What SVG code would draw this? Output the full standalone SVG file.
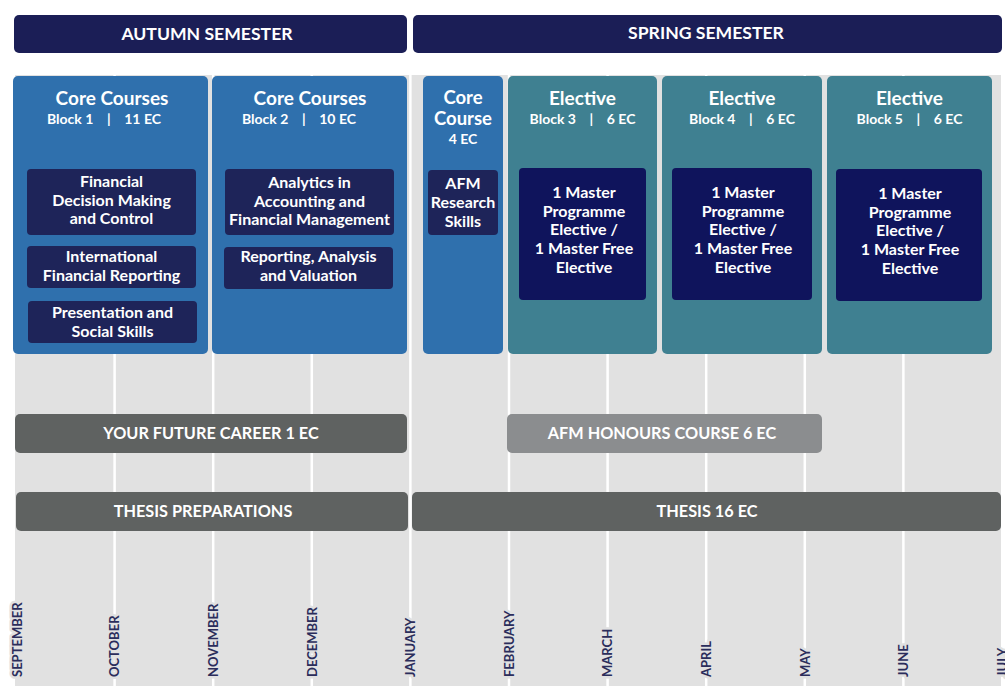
<svg xmlns="http://www.w3.org/2000/svg" width="1005" height="686" viewBox="0 0 1005 686">
<style>
text{font-family:Lato,"Open Sans","Liberation Sans",sans-serif;font-weight:bold;text-anchor:middle;fill:#fff;white-space:pre}
.sem{fill:#1b1e56}
.blue{fill:#2f70ad}
.teal{fill:#3f8091}
.inner{fill:#1e2459}
.einner{fill:#0f145c}
.bar{fill:#5f6261}
.bar2{fill:#8b8d8f}
.h1{font-size:19px}
.h1s{font-size:18.5px}
.h2{font-size:14px}
.t{font-size:16px}
.semt{font-size:17.6px}
.bt{font-size:16.3px}
.mon{font-size:13px;fill:#2b2d5b;text-anchor:start;stroke:#e1e1e1;stroke-width:5;paint-order:stroke;stroke-linejoin:round}
.gl{stroke:#fff;stroke-width:2.5}
</style>
<rect x="0" y="0" width="1005" height="686" fill="#fff"/>
<rect x="15" y="75" width="986" height="611" fill="#e1e1e1"/>
<g id="gridlines">
<line class="gl" x1="114.6" y1="75" x2="114.6" y2="686"/>
<line class="gl" x1="213.2" y1="75" x2="213.2" y2="686"/>
<line class="gl" x1="311.8" y1="75" x2="311.8" y2="686"/>
<line class="gl" x1="410.4" y1="75" x2="410.4" y2="686"/>
<line class="gl" x1="509" y1="75" x2="509" y2="686"/>
<line class="gl" x1="607.6" y1="75" x2="607.6" y2="686"/>
<line class="gl" x1="706.2" y1="75" x2="706.2" y2="686"/>
<line class="gl" x1="804.8" y1="75" x2="804.8" y2="686"/>
<line class="gl" x1="903.4" y1="75" x2="903.4" y2="686"/>
</g>
<g id="months">
<text class="mon" transform="translate(21.5,677) rotate(-90)">SEPTEMBER</text>
<text class="mon" transform="translate(119.3,677) rotate(-90)">OCTOBER</text>
<text class="mon" transform="translate(217.9,677) rotate(-90)">NOVEMBER</text>
<text class="mon" transform="translate(316.5,677) rotate(-90)">DECEMBER</text>
<text class="mon" transform="translate(415.1,677) rotate(-90)">JANUARY</text>
<text class="mon" transform="translate(513.7,677) rotate(-90)">FEBRUARY</text>
<text class="mon" transform="translate(612.3,677) rotate(-90)">MARCH</text>
<text class="mon" transform="translate(710.9,677) rotate(-90)">APRIL</text>
<text class="mon" transform="translate(809.5,677) rotate(-90)">MAY</text>
<text class="mon" transform="translate(908.1,677) rotate(-90)">JUNE</text>
<text class="mon" transform="translate(1006.7,677) rotate(-90)">JULY</text>
</g>
<g id="autumn">
<rect class="sem" x="14" y="15" width="393" height="38" rx="5"/>
<text class="semt" x="207" y="40">AUTUMN SEMESTER</text>
</g>
<g id="spring">
<rect class="sem" x="413" y="15" width="589" height="38" rx="5"/>
<text class="semt" x="706" y="39">SPRING SEMESTER</text>
</g>
<g id="block1">
<rect class="blue" x="13" y="76" width="195" height="278" rx="5"/>
<text class="h1" x="112" y="105">Core Courses</text>
<text class="h2" x="104" y="124">Block 1    |    11 EC</text>
</g>
<g id="block2">
<rect class="blue" x="212" y="76" width="195" height="278" rx="5"/>
<text class="h1" x="310" y="105">Core Courses</text>
<text class="h2" x="299" y="124">Block 2    |    10 EC</text>
</g>
<g id="corecourse">
<rect class="blue" x="423" y="76" width="80" height="278" rx="5"/>
<text class="h1s" x="463" y="104">Core</text>
<text class="h1s" x="463" y="125">Course</text>
<text class="h2" x="463" y="144">4 EC</text>
</g>
<g id="block3">
<rect class="teal" x="508" y="76" width="149" height="278" rx="5"/>
<text class="h1" x="582.5" y="105">Elective</text>
<text class="h2" x="582.5" y="124">Block 3    |    6 EC</text>
</g>
<g id="block4">
<rect class="teal" x="662" y="76" width="160" height="278" rx="5"/>
<text class="h1" x="742" y="105">Elective</text>
<text class="h2" x="742" y="124">Block 4    |    6 EC</text>
</g>
<g id="block5">
<rect class="teal" x="827" y="76" width="165" height="278" rx="5"/>
<text class="h1" x="909.5" y="105">Elective</text>
<text class="h2" x="909.5" y="124">Block 5    |    6 EC</text>
</g>
<g id="fdmc">
<rect class="inner" x="27" y="169" width="169" height="66" rx="4"/>
<text class="t" x="111.5" y="187">Financial</text>
<text class="t" x="111.5" y="206">Decision Making</text>
<text class="t" x="111.5" y="224">and Control</text>
</g>
<g id="ifr">
<rect class="inner" x="27" y="246" width="169" height="42" rx="4"/>
<text class="t" x="111.5" y="262">International</text>
<text class="t" x="111.5" y="281">Financial Reporting</text>
</g>
<g id="pss">
<rect class="inner" x="28" y="301" width="169" height="42" rx="4"/>
<text class="t" x="112.5" y="318">Presentation and</text>
<text class="t" x="112.5" y="337">Social Skills</text>
</g>
<g id="aafm">
<rect class="inner" x="225" y="169" width="169" height="66" rx="4"/>
<text class="t" x="309.5" y="188">Analytics in</text>
<text class="t" x="309.5" y="207">Accounting and</text>
<text class="t" x="309.5" y="225">Financial Management</text>
</g>
<g id="rav">
<rect class="inner" x="224" y="247" width="169" height="42" rx="4"/>
<text class="t" x="308.5" y="262">Reporting, Analysis</text>
<text class="t" x="308.5" y="281">and Valuation</text>
</g>
<g id="afmrs">
<rect class="inner" x="428" y="170" width="70" height="65" rx="4"/>
<text class="t" x="463" y="189">AFM</text>
<text class="t" x="463" y="208">Research</text>
<text class="t" x="463" y="227">Skills</text>
</g>
<g id="el3">
<rect class="einner" x="519" y="168" width="127" height="132" rx="4"/>
<text class="t" x="584" y="198">1 Master</text>
<text class="t" x="584" y="217">Programme</text>
<text class="t" x="584" y="235">Elective /</text>
<text class="t" x="584" y="254">1 Master Free</text>
<text class="t" x="584" y="273">Elective</text>
</g>
<g id="el4">
<rect class="einner" x="672" y="168" width="140" height="132" rx="4"/>
<text class="t" x="743" y="198">1 Master</text>
<text class="t" x="743" y="217">Programme</text>
<text class="t" x="743" y="235">Elective /</text>
<text class="t" x="743" y="254">1 Master Free</text>
<text class="t" x="743" y="273">Elective</text>
</g>
<g id="el5">
<rect class="einner" x="836" y="169" width="146" height="132" rx="4"/>
<text class="t" x="910" y="199">1 Master</text>
<text class="t" x="910" y="218">Programme</text>
<text class="t" x="910" y="236">Elective /</text>
<text class="t" x="910" y="255">1 Master Free</text>
<text class="t" x="910" y="274">Elective</text>
</g>
<g id="career">
<rect class="bar" x="15" y="414" width="392" height="39" rx="5"/>
<text class="bt" x="211" y="439">YOUR FUTURE CAREER 1 EC</text>
</g>
<g id="honours">
<rect class="bar2" x="507" y="414" width="315" height="39" rx="5"/>
<text class="bt" x="662" y="439">AFM HONOURS COURSE 6 EC</text>
</g>
<g id="thesisprep">
<rect class="bar" x="16" y="492" width="392" height="39" rx="5"/>
<text class="bt" x="203" y="517">THESIS PREPARATIONS</text>
</g>
<g id="thesis">
<rect class="bar" x="412" y="492" width="589" height="39" rx="5"/>
<text class="bt" x="707" y="517">THESIS 16 EC</text>
</g>
<g id="connectors"></g>
</svg>
